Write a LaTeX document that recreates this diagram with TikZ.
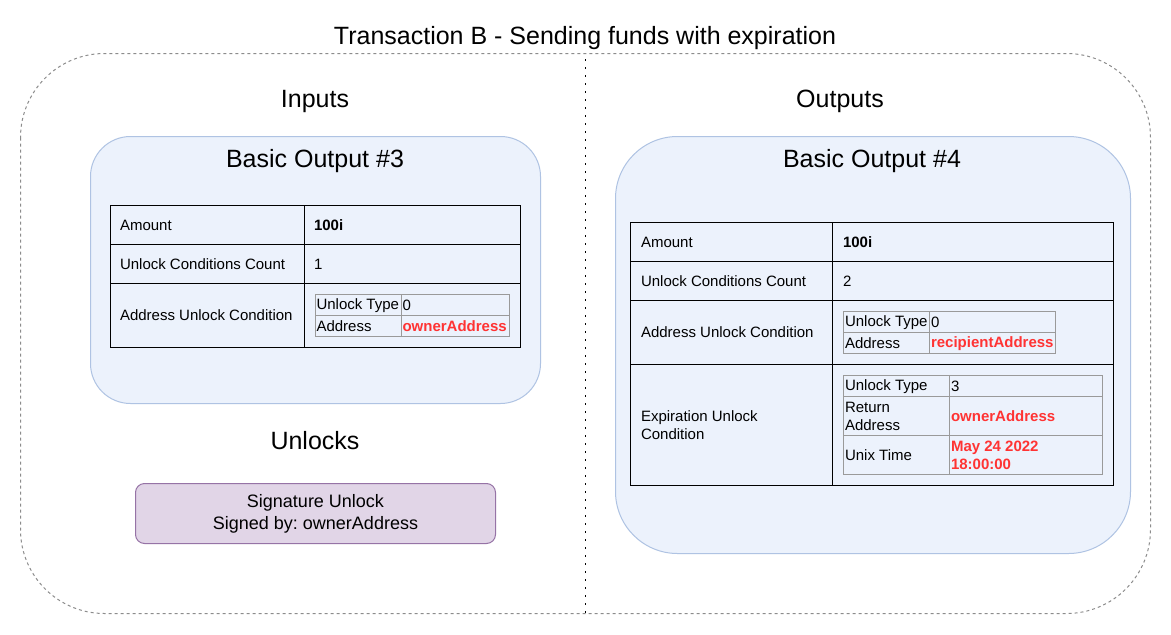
\documentclass[tikz,border=0pt]{standalone}
\usepackage{fontspec}
\setmainfont{Liberation Sans}
\frenchspacing
\begin{document}
\begin{tikzpicture}[x=1pt,y=-1pt,
  every node/.style={inner sep=0pt, outer sep=0pt},
  big/.style={font=\fontsize{25}{30}\selectfont, anchor=center},
  cell/.style={font=\fontsize{15}{18}\selectfont, anchor=west, align=left},
  redv/.style={cell, text=redtxt, font=\fontsize{15}{18}\selectfont\bfseries},
  boldv/.style={cell, font=\fontsize{15}{18}\selectfont\bfseries},
  outbox/.style={draw=boxline, fill=boxfill, line width=1pt},
  tline/.style={draw=black, line width=1pt},
  iline/.style={draw=innerline, line width=1pt},
]
\definecolor{boxfill}{HTML}{ECF2FC}
\definecolor{boxline}{HTML}{AFC3E3}
\definecolor{innerline}{HTML}{9A9A9A}
\definecolor{redtxt}{HTML}{FF3333}
\definecolor{sigfill}{HTML}{E1D5E7}
\definecolor{sigline}{HTML}{9673A6}
\definecolor{outerline}{HTML}{8C8C8C}
\useasboundingbox (0,0) rectangle (1171,635);
\fill[white] (0,0) rectangle (1171,635);

% outer container
\draw[outerline, line width=1pt, dash pattern=on 3pt off 3pt, rounded corners=84pt] (20.5,53.5) rectangle (1150.5,613.5);
\coordinate (divtop) at (585.5,59);
\coordinate (divbot) at (585.5,613);
\draw[black, line width=1.8pt, dash pattern=on 1.8pt off 6.2pt] (divtop) -- (divbot);

\node[big] (title) at (585,38) {Transaction B - Sending funds with expiration};
\node[big] (inputs) at (315,101) {Inputs};
\node[big] (outputs) at (840,101) {Outputs};
\node[big] (unlocks) at (315,441) {Unlocks};

% Basic Output #3
\draw[outbox, rounded corners=40pt] (90.5,136.5) rectangle (540.5,403.5);
\node[big] (bo3) at (315,161) {Basic Output \#3};
\draw[tline] (110.5,205.5) rectangle (520.5,347.5);
\draw[tline] (110.5,244.5) -- (520.5,244.5);
\draw[tline] (110.5,283.5) -- (520.5,283.5);
\draw[tline] (304.5,205.5) -- (304.5,347.5);
\node[cell] (a3) at (120,225) {Amount};
\node[boldv] (a3v) at (314,225) {100i};
\node[cell] (c3) at (120,264) {Unlock Conditions Count};
\node[cell] (c3v) at (314,264) {1};
\node[cell] (u3) at (120,315) {Address Unlock Condition};
\draw[iline] (315.5,294.5) rectangle (509.5,336.5);
\draw[iline] (315.5,315.5) -- (509.5,315.5);
\draw[iline] (401.5,294.5) -- (401.5,336.5);
\node[cell] (t3) at (316.5,305.5) {Unlock Type};
\node[cell] (t3v) at (402.5,305.5) {0};
\node[cell] (ad3) at (316.5,326.5) {Address};
\node[redv] (ad3v) at (402.5,326.5) {ownerAddress};

% Signature unlock
\node[draw=sigline, fill=sigfill, line width=1pt, rounded corners=9pt, minimum width=360pt, minimum height=60pt, align=center, font=\fontsize{18}{22}\selectfont] (sig) at (315.5,513.5) {Signature Unlock\\Signed by: ownerAddress};

% Basic Output #4
\draw[outbox, rounded corners=62pt] (615.5,136.5) rectangle (1130.5,553.5);
\node[big] (bo4) at (872,161) {Basic Output \#4};
\draw[tline] (630.5,222.5) rectangle (1113.5,485.5);
\draw[tline] (630.5,261.5) -- (1113.5,261.5);
\draw[tline] (630.5,300.5) -- (1113.5,300.5);
\draw[tline] (630.5,364.5) -- (1113.5,364.5);
\draw[tline] (832.5,222.5) -- (832.5,485.5);
\node[cell] (a4) at (641,242) {Amount};
\node[boldv] (a4v) at (843,242) {100i};
\node[cell] (c4) at (641,281) {Unlock Conditions Count};
\node[cell] (c4v) at (843,281) {2};
\node[cell] (u4) at (641,332) {Address Unlock Condition};
\node[cell] (e4) at (641,425) {Expiration Unlock\\Condition};
% inner A
\draw[iline] (843.5,311.5) rectangle (1055.5,353.5);
\draw[iline] (843.5,332.5) -- (1055.5,332.5);
\draw[iline] (929.5,311.5) -- (929.5,353.5);
\node[cell] (t4) at (845,322.5) {Unlock Type};
\node[cell] (t4v) at (931,322.5) {0};
\node[cell] (ad4) at (845,343.5) {Address};
\node[redv] (ad4v) at (931,343.5) {recipientAddress};
% inner B
\draw[iline] (843.5,375.5) rectangle (1102.5,474.5);
\draw[iline] (843.5,396.5) -- (1102.5,396.5);
\draw[iline] (843.5,435.5) -- (1102.5,435.5);
\draw[iline] (949.5,375.5) -- (949.5,474.5);
\node[cell] (t5) at (845,386.5) {Unlock Type};
\node[cell] (t5v) at (951,386.5) {3};
\node[cell] (r5) at (845,416.5) {Return\\Address};
\node[redv] (r5v) at (951,416.5) {ownerAddress};
\node[cell] (x5) at (845,455.5) {Unix Time};
\node[redv, align=left] (x5v) at (951,455.5) {May 24 2022\\18:00:00};
\end{tikzpicture}
\end{document}
